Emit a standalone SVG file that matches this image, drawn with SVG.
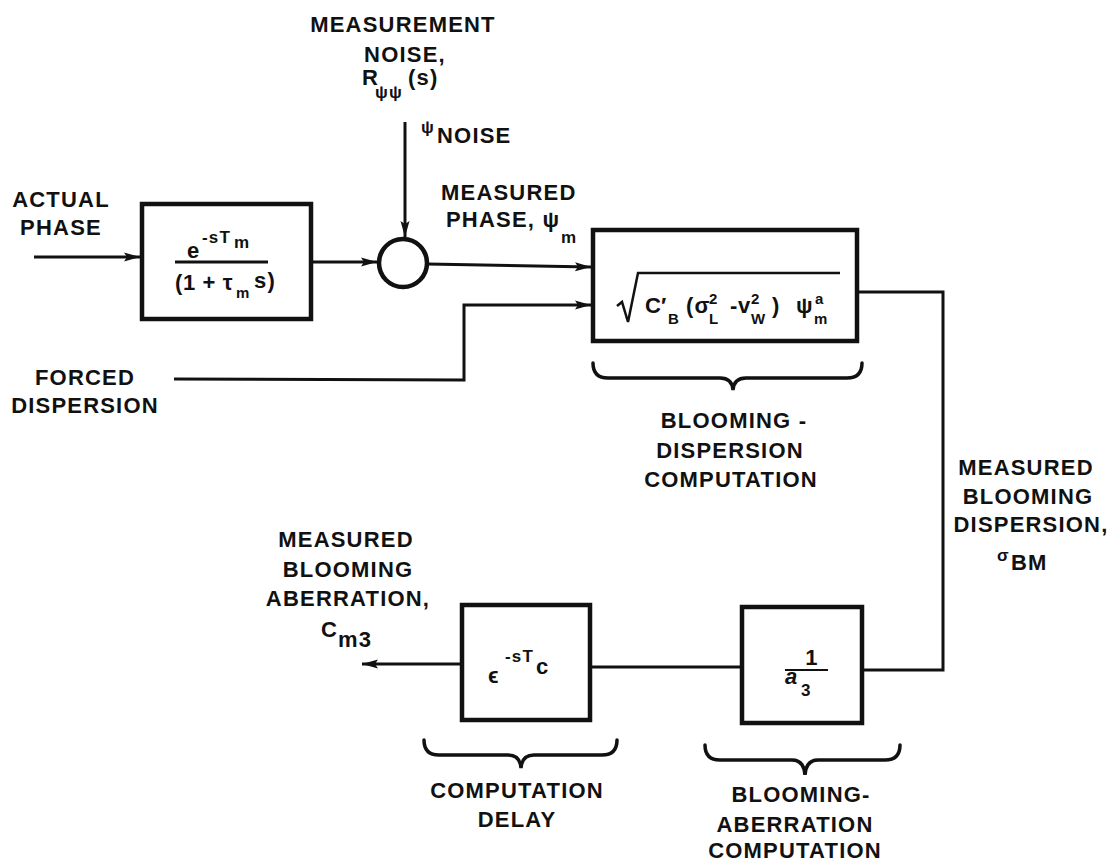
<svg xmlns="http://www.w3.org/2000/svg" width="1111" height="865" viewBox="0 0 1111 865">
<defs>
<style>
.t{font-family:"Liberation Sans",Arial,sans-serif;font-weight:bold;font-size:22px;fill:#111;letter-spacing:1.2px}
.c{text-anchor:middle}
.s{font-size:17px}
.x{font-size:15px;letter-spacing:0}
.box{fill:none;stroke:#111;stroke-width:4.5}
.ln{fill:none;stroke:#111;stroke-width:3}
.br{fill:none;stroke:#111;stroke-width:3.5;stroke-linecap:round}
</style>
<marker id="ah" markerUnits="userSpaceOnUse" markerWidth="18" markerHeight="12" refX="16" refY="6" orient="auto">
<path d="M0,1.5 L16,6 L0,10.5 L3,6 Z" fill="#111"/>
</marker>
</defs>
<rect width="1111" height="865" fill="#fff"/>

<g id="connectors">
<line class="ln" x1="34" y1="257" x2="140" y2="257" marker-end="url(#ah)"/>
<line class="ln" x1="312" y1="262" x2="377" y2="262" marker-end="url(#ah)"/>
<line class="ln" x1="405" y1="122" x2="405" y2="237" marker-end="url(#ah)"/>
<line class="ln" x1="427" y1="264" x2="591" y2="267" marker-end="url(#ah)"/>
<polyline class="ln" points="174,379 464,380 464,305 591,305" marker-end="url(#ah)"/>
<polyline class="ln" points="857,292 943,292 943,670 862,670"/>
<line class="ln" x1="742" y1="667" x2="590" y2="667"/>
<line class="ln" x1="462" y1="664" x2="362" y2="664" marker-end="url(#ah)"/>
</g>

<g id="box1">
<rect class="box" x="142" y="204" width="169" height="115"/>
<text class="t" x="187" y="258">e</text>
<text class="t s" x="202" y="243">-sT</text>
<text class="t s" x="234" y="248">m</text>
<line class="ln" x1="175" y1="262" x2="268" y2="262" stroke-width="2.5"/>
<text class="t" x="175" y="290" style="letter-spacing:0.6px">(1 + τ</text>
<text class="t x" x="236" y="298">m</text>
<text class="t" x="254" y="288">s)</text>
</g>

<g id="sum">
<circle cx="403" cy="263" r="24" fill="#fff" stroke="#111" stroke-width="4.5"/>
</g>

<g id="box2">
<rect class="box" x="593" y="230" width="264" height="111"/>
<path d="M617,306 L622,302 L628,322 L638,273 L840,273" fill="none" stroke="#111" stroke-width="2.5"/>
<text class="t" x="645" y="313" style="letter-spacing:0">C′</text>
<text class="t x" x="668" y="324">B</text>
<text class="t" x="686" y="313">(σ</text>
<text class="t x" x="709" y="304">2</text>
<text class="t x" x="709" y="324">L</text>
<text class="t" x="730" y="313">-</text>
<text class="t" x="738" y="313" style="letter-spacing:0">v</text>
<text class="t x" x="751" y="304">2</text>
<text class="t x" x="751" y="324">W</text>
<text class="t" x="772" y="313">)</text>
<text class="t" x="796" y="313">ψ</text>
<text class="t x" x="815" y="304">a</text>
<text class="t x" x="814" y="324">m</text>
</g>

<g id="box3">
<rect class="box" x="462" y="605" width="128" height="115"/>
<text class="t" x="488" y="683" font-size="20">ϵ</text>
<text class="t s" x="505" y="662">-sT</text>
<text class="t" x="536" y="674">c</text>
</g>

<g id="box4">
<rect class="box" x="742" y="607" width="120" height="116"/>
<text class="t c" x="812" y="665">1</text>
<line x1="785" y1="670" x2="828" y2="670" stroke="#111" stroke-width="2"/>
<text class="t" x="785" y="684" font-style="italic">a</text>
<text class="t s" x="801" y="696">3</text>
</g>

<g id="braces">
<path class="br" d="M593,363 Q593,378 608,378 L720,378 Q732,378 733,390 Q734,378 746,378 L847,378 Q862,378 862,363"/>
<path class="br" d="M424,740 Q424,755 439,755 L508,755 Q520,755 521,768 Q522,755 534,755 L602,755 Q617,755 617,740"/>
<path class="br" d="M705,745 Q705,760 720,760 L792,760 Q804,760 805,775 Q806,760 818,760 L885,760 Q900,760 900,745"/>
</g>

<g id="labels">
<text class="t c" x="403" y="32">MEASUREMENT</text>
<text class="t c" x="405" y="62">NOISE,</text>
<text class="t" x="362" y="85" font-size="19">R</text>
<text class="t s" x="375" y="98">ψψ</text>
<text class="t" x="408" y="85" font-size="18">(s)</text>
<text class="t s" x="421" y="133">ψ</text>
<text class="t" x="437" y="143">NOISE</text>

<text class="t c" x="61" y="207">ACTUAL</text>
<text class="t c" x="61" y="235">PHASE</text>

<text class="t" x="441" y="200">MEASURED</text>
<text class="t" x="446" y="227">PHASE, ψ</text>
<text class="t s" x="561" y="243">m</text>

<text class="t c" x="85" y="385">FORCED</text>
<text class="t c" x="85" y="413">DISPERSION</text>

<text class="t c" x="734" y="428">BLOOMING -</text>
<text class="t c" x="730" y="458">DISPERSION</text>
<text class="t c" x="731" y="487">COMPUTATION</text>

<text class="t c" x="1026" y="475">MEASURED</text>
<text class="t c" x="1028" y="504">BLOOMING</text>
<text class="t c" x="1031" y="532">DISPERSION,</text>
<text class="t s" x="997" y="561">σ</text>
<text class="t" x="1011" y="570">BM</text>

<text class="t c" x="346" y="547">MEASURED</text>
<text class="t c" x="348" y="577">BLOOMING</text>
<text class="t c" x="348" y="606">ABERRATION,</text>
<text class="t" x="321" y="637">C</text>
<text class="t" x="338" y="647">m3</text>

<text class="t c" x="517" y="798">COMPUTATION</text>
<text class="t c" x="517" y="827">DELAY</text>

<text class="t c" x="801" y="802">BLOOMING-</text>
<text class="t c" x="795" y="832">ABERRATION</text>
<text class="t c" x="795" y="858">COMPUTATION</text>
</g>
</svg>
